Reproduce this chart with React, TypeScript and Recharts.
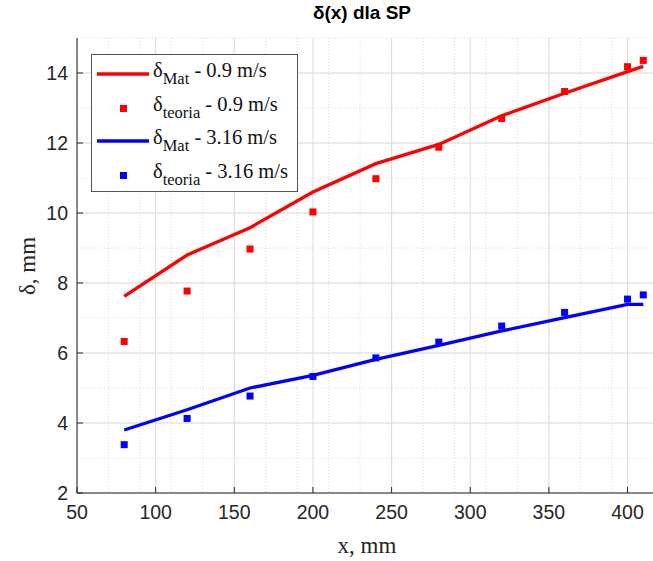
import React from "react";
import {
  CartesianGrid,
  ComposedChart,
  Line,
  Scatter,
  XAxis,
  YAxis,
} from "recharts";

// x positions (mm)
const xMat = [80, 120, 160, 200, 240, 280, 320, 360, 400, 410];
const xTeoria = [80, 120, 160, 200, 240, 280, 320, 360, 400, 410];

// delta (mm)
const matSlow = [7.62, 8.8, 9.58, 10.6, 11.41, 11.96, 12.78, 13.42, 14.04, 14.19];
const teoriaSlow = [6.33, 7.77, 8.97, 10.03, 10.98, 11.88, 12.7, 13.47, 14.18, 14.36];
const matFast = [3.8, 4.38, 5.0, 5.36, 5.82, 6.22, 6.63, 7.01, 7.39, 7.39];
const teoriaFast = [3.38, 4.13, 4.77, 5.33, 5.86, 6.31, 6.77, 7.16, 7.54, 7.66];

const xTicks = [50, 100, 150, 200, 250, 300, 350, 400];
const yTicks = [2, 4, 6, 8, 10, 12, 14];
const X_DOMAIN: [number, number] = [50, 420];
const Y_DOMAIN: [number, number] = [2, 15];

const xMinor: number[] = [];
for (let v = 50; v <= 420; v += 10) xMinor.push(v);
const yMinor: number[] = [];
for (let v = 2; v <= 15; v += 0.5) yMinor.push(v);

const toPoints = (xs: number[], ys: number[]) => xs.map((x, i) => ({ x, y: ys[i] }));

const RED = "#ff0000";
const BLUE = "#0000ff";
const AXIS = "#262626";
const SANS = "'Liberation Sans', Arial, sans-serif";
const SERIF = "'Liberation Serif', 'Times New Roman', serif";

const squareShape = (color: string) => (p: any) => (
  <rect x={p.cx - 3.5} y={p.cy - 3.5} width={7} height={7} fill={color} />
);

const BottomTick = (p: any) => (
  <g>
    <line x1={p.x} y1={p.y} x2={p.x} y2={p.y - 6} stroke={AXIS} />
    <text
      x={p.x}
      y={p.y + 19}
      textAnchor="middle"
      dominantBaseline="central"
      fontFamily={SANS}
      fontSize={19.5}
      fill={AXIS}
    >
      {p.payload.value}
    </text>
  </g>
);

const TopTick = (p: any) => (
  <line x1={p.x} y1={p.y} x2={p.x} y2={p.y + 6} stroke={AXIS} />
);

const LeftTick = (p: any) => (
  <g>
    <line x1={p.x} y1={p.y} x2={p.x + 6} y2={p.y} stroke={AXIS} />
    <text
      x={p.x - 9}
      y={p.y}
      textAnchor="end"
      dominantBaseline="central"
      fontFamily={SANS}
      fontSize={19.5}
      fill={AXIS}
    >
      {p.payload.value}
    </text>
  </g>
);

const RightTick = (p: any) => (
  <line x1={p.x} y1={p.y} x2={p.x - 6} y2={p.y} stroke={AXIS} />
);

const legendRows = [
  { color: RED, kind: "line", sub: "Mat", rest: " - 0.9 m/s" },
  { color: RED, kind: "marker", sub: "teoria", rest: " - 0.9 m/s" },
  { color: BLUE, kind: "line", sub: "Mat", rest: " - 3.16 m/s" },
  { color: BLUE, kind: "marker", sub: "teoria", rest: " - 3.16 m/s" },
];

function LegendBox() {
  return (
    <div
      style={{
        position: "absolute",
        left: 91,
        top: 54,
        width: 207,
        height: 138,
        background: "#fff",
        border: "1px solid #555",
        boxSizing: "border-box",
      }}
    >
      {legendRows.map((r, i) => (
        <div
          key={i}
          style={{
            position: "absolute",
            left: 0,
            top: 3 + i * 33.5,
            height: 33,
            width: 204,
          }}
        >
          <svg width={58} height={33} style={{ position: "absolute", left: 4, top: 0 }}>
            {r.kind === "line" ? (
              <line x1={1} y1={16} x2={53} y2={16} stroke={r.color} strokeWidth={3.3} />
            ) : (
              <rect x={24} y={13} width={7} height={7} fill={r.color} />
            )}
          </svg>
          <div
            style={{
              position: "absolute",
              left: 61,
              top: 0,
              fontFamily: SERIF,
              fontSize: 20.5,
              lineHeight: "24px",
              whiteSpace: "nowrap",
              color: "#111",
            }}
          >
            δ
            <sub style={{ fontSize: 16.5, verticalAlign: "-7px" }}>{r.sub}</sub>
            {r.rest}
          </div>
        </div>
      ))}
    </div>
  );
}

export default function App() {
  return (
    <div
      style={{
        position: "fixed",
        left: 0,
        top: 0,
        width: 653,
        height: 561,
        overflow: "hidden",
        background: "#fff",
      }}
    >
      <div
        style={{
          position: "absolute",
          left: 0,
          width: 724,
          top: 2,
          textAlign: "center",
          fontFamily: SANS,
          fontWeight: "bold",
          fontSize: 19,
          color: "#000",
        }}
      >
        δ(x) dla SP
      </div>
      <ComposedChart
        width={665}
        height={561}
        margin={{ top: 38, right: 6, bottom: 0, left: 0 }}
      >
        <CartesianGrid
          verticalValues={xMinor}
          horizontalValues={yMinor}
          stroke="#dadada"
          strokeDasharray="1 2"
        />
        <CartesianGrid
          verticalValues={xTicks}
          horizontalValues={yTicks}
          stroke="#dcdcdc"
        />
        <XAxis
          type="number"
          dataKey="x"
          domain={X_DOMAIN}
          ticks={xTicks}
          allowDataOverflow
          height={68}
          tickSize={0}
          tickMargin={0}
          tickLine={false}
          tick={BottomTick}
          stroke={AXIS}
          label={{
            content: () => (
              <text
                x={367}
                y={545}
                textAnchor="middle"
                dominantBaseline="central"
                fontFamily={SERIF}
                fontSize={23}
                fill={AXIS}
              >
                x, mm
              </text>
            ),
          }}
        />
        <XAxis
          xAxisId="top"
          orientation="top"
          type="number"
          domain={X_DOMAIN}
          ticks={xTicks}
          allowDataOverflow
          height={0}
          tickSize={0}
          tickMargin={0}
          tickLine={false}
          tick={TopTick}
          stroke={AXIS}
        />
        <YAxis
          type="number"
          domain={Y_DOMAIN}
          ticks={yTicks}
          allowDataOverflow
          width={77}
          tickSize={0}
          tickMargin={0}
          tickLine={false}
          tick={LeftTick}
          stroke={AXIS}
          label={{
            content: () => (
              <text
                x={27}
                y={266}
                transform="rotate(-90 27 266)"
                textAnchor="middle"
                dominantBaseline="central"
                fontFamily={SERIF}
                fontSize={23}
                fill={AXIS}
              >
                δ, mm
              </text>
            ),
          }}
        />
        <YAxis
          yAxisId="right"
          orientation="right"
          type="number"
          domain={Y_DOMAIN}
          ticks={yTicks}
          allowDataOverflow
          width={0}
          tickSize={0}
          tickMargin={0}
          tickLine={false}
          tick={RightTick}
          stroke={AXIS}
        />
        <Line
          data={toPoints(xMat, matSlow)}
          dataKey="y"
          type="linear"
          stroke={RED}
          strokeWidth={3.3}
          dot={false}
          isAnimationActive={false}
        />
        <Scatter
          data={toPoints(xTeoria, teoriaSlow)}
          dataKey="y"
          shape={squareShape(RED)}
          isAnimationActive={false}
        />
        <Line
          data={toPoints(xMat, matFast)}
          dataKey="y"
          type="linear"
          stroke={BLUE}
          strokeWidth={3.3}
          dot={false}
          isAnimationActive={false}
        />
        <Scatter
          data={toPoints(xTeoria, teoriaFast)}
          dataKey="y"
          shape={squareShape(BLUE)}
          isAnimationActive={false}
        />
      </ComposedChart>
      <LegendBox />
    </div>
  );
}
